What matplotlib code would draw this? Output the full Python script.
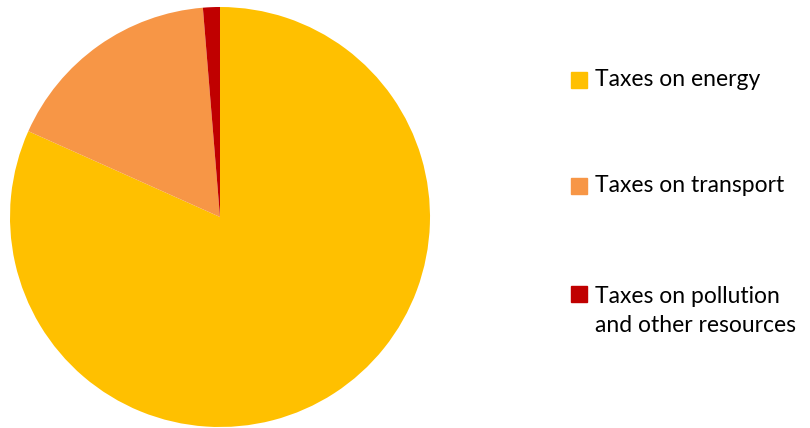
import matplotlib.pyplot as plt
from matplotlib.patches import Rectangle

labels = ['Taxes on energy', 'Taxes on transport', 'Taxes on pollution\nand other resources']
shares = [81.7, 17.0, 1.3]
colors = ['#FFC000', '#F79646', '#C00000']

W, H = 810, 428
fig = plt.figure(figsize=(W / 100, H / 100), dpi=100)

# pie, centred around (220, 217) px, radius ~210 px
ax = fig.add_axes([10 / W, 1 / H, 420 / W, 420 / H])
ax.pie(shares, colors=colors, startangle=90, counterclock=False,
       wedgeprops=dict(linewidth=0))
ax.set_xlim(-1, 1)
ax.set_ylim(-1, 1)
ax.set_aspect('equal')
ax.axis('off')

# legend drawn by hand: square + text
sq_top = [72, 178, 286]     # px from top
text_y = [80, 186, 311]
for lab, col, st, ty in zip(labels, colors, sq_top, text_y):
  fig.patches.append(Rectangle((571 / W, 1 - (st + 16) / H), 16 / W, 16 / H,
                               transform=fig.transFigure, color=col))
  fig.text(595 / W, 1 - ty / H, lab, fontsize=16.5, family='Lato',
           va='center', ha='left', color='#000000', linespacing=1.45)

fig.savefig('out.png', dpi=100)
